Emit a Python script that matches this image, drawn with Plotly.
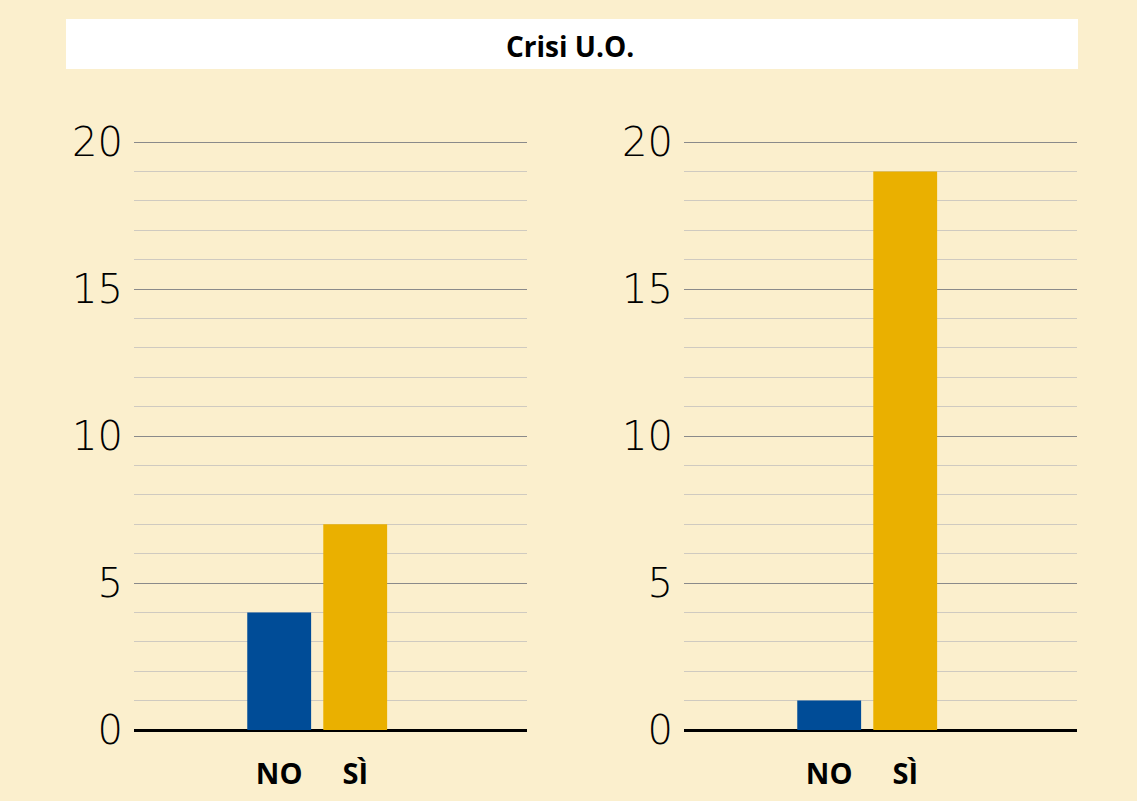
import plotly.graph_objects as go

categories = ["NO", "SÌ"]
left_values = [4, 7]
right_values = [1, 19]
bar_colors = ["#004C97", "#EAB000"]
y_ticks = [0, 5, 10, 15, 20]
title_text = "Crisi U.O."

W, H = 1137, 801
BG = "#FBEFCD"
Y_TOP = 20.5
PX_PER_UNIT = (730 - 142) / 20.0

def px_x(p):
    return p / W

def px_y(p):
    return 1 - p / H

fig = go.Figure()
fig.add_trace(go.Bar(x=categories, y=left_values, marker_color=bar_colors,
                     marker_line_width=0, width=0.84, xaxis="x", yaxis="y", showlegend=False))
fig.add_trace(go.Bar(x=categories, y=right_values, marker_color=bar_colors,
                     marker_line_width=0, width=0.84, xaxis="x2", yaxis="y2", showlegend=False))

xcommon = dict(type="category", range=[-1.91, 3.26], showgrid=False, zeroline=False,
               showline=False, ticks="outside", ticklen=18, tickcolor="rgba(0,0,0,0)",
               tickfont=dict(family="Open Sans", size=29, color="#000", weight="bold"),
               automargin=False, fixedrange=True)
ycommon = dict(range=[0, Y_TOP], tickvals=y_ticks, showgrid=True, gridcolor="#8a8a8a",
               gridwidth=1, zeroline=True, zerolinecolor="#000", zerolinewidth=3,
               showline=False, ticks="outside", ticklen=2, tickcolor="rgba(0,0,0,0)",
               tickfont=dict(family="DejaVu Sans", size=40, color="#000", weight=200),
               minor=dict(dtick=1, showgrid=True, gridcolor="#cfcac0", gridwidth=1),
               automargin=False, fixedrange=True)

top_px = 730 - PX_PER_UNIT * Y_TOP

fig.update_layout(
    width=W, height=H, autosize=False,
    margin=dict(l=0, r=0, t=0, b=0, pad=0),
    paper_bgcolor=BG, plot_bgcolor=BG,
    xaxis=dict(domain=[px_x(134), px_x(527)], anchor="y", **xcommon),
    yaxis=dict(domain=[px_y(730), px_y(top_px)], anchor="x", **ycommon),
    xaxis2=dict(domain=[px_x(684), px_x(1077)], anchor="y2", **xcommon),
    yaxis2=dict(domain=[px_y(730), px_y(top_px)], anchor="x2", **ycommon),
    shapes=[dict(type="rect", xref="paper", yref="paper",
                 x0=px_x(66), x1=px_x(1078), y0=px_y(69), y1=px_y(19),
                 fillcolor="#FFFFFF", line_width=0, layer="below")],
    annotations=[dict(text=title_text, xref="paper", yref="paper",
                      x=px_x(570), y=px_y(46), showarrow=False,
                      xanchor="center", yanchor="middle",
                      font=dict(family="Open Sans", size=28, color="#000", weight="bold"))],
)

fig.write_html("out.html", config={"displayModeBar": False, "staticPlot": True},
               post_script="document.body.style.margin='0px';document.body.style.overflow='hidden';")
